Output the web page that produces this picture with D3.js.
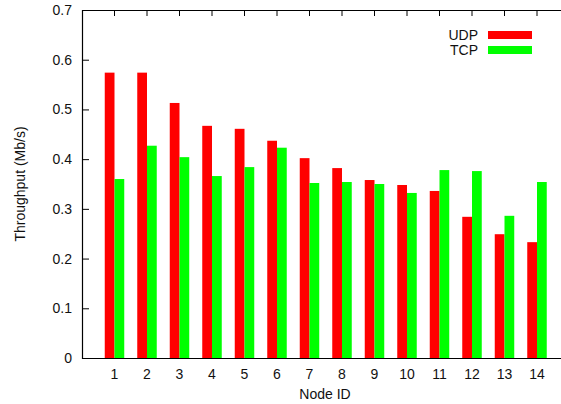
<!DOCTYPE html>
<html lang="en">
<head>
<meta charset="utf-8">
<title>Throughput per node</title>
<script src="https://cdnjs.cloudflare.com/ajax/libs/d3/7.8.5/d3.min.js"></script>
<style>
body { margin: 0; background: #fff; }
svg text { font-family: "Liberation Sans", Arial, sans-serif; font-size: 14px; fill: #111; }
</style>
</head>
<body>
<div id="chart"></div>
<script>

var nodes = [1, 2, 3, 4, 5, 6, 7, 8, 9, 10, 11, 12, 13, 14]
var udp = [0.574, 0.574, 0.513, 0.467, 0.461, 0.437, 0.402, 0.382, 0.358, 0.348, 0.336, 0.284, 0.249, 0.233]
var tcp = [0.360, 0.427, 0.404, 0.366, 0.384, 0.423, 0.352, 0.354, 0.350, 0.332, 0.378, 0.376, 0.286, 0.354]
var yTicks = [0, 0.1, 0.2, 0.3, 0.4, 0.5, 0.6, 0.7]
var seriesNames = ['UDP', 'TCP']
var seriesColors = ['#ff0000', '#00ff00']

var svgWidth = 561, svgHeight = 404
var plotLeft = 82, plotTop = 10, plotBottom = 358
var boxWidth = 0.3

var svg = d3.select('#chart').append('svg')
    .attr('width', svgWidth)
    .attr('height', svgHeight)

// x runs 0..15 but the right end falls outside the picture
var x = d3.scaleLinear().domain([0, 15]).range([plotLeft, plotLeft + 15 * 32.5])
var y = d3.scaleLinear().domain([0, 0.7]).range([plotBottom, plotTop])

// y ticks (inward) + labels
var yAxis = svg.append('g')
yAxis.selectAll('line').data(yTicks).enter().append('line')
    .attr('x1', plotLeft).attr('x2', plotLeft + 7)
    .attr('y1', function(d) { return y(d) + 0.5 }).attr('y2', function(d) { return y(d) + 0.5 })
    .attr('stroke', '#000').attr('stroke-width', 1)
yAxis.selectAll('text').data(yTicks).enter().append('text')
    .attr('x', plotLeft - 10)
    .attr('y', function(d) { return y(d) + 5 })
    .attr('text-anchor', 'end')
    .text(function(d) { return d === 0 ? '0' : d.toFixed(1) })

// top mirrored x ticks
svg.append('g').selectAll('line').data(nodes).enter().append('line')
    .attr('x1', function(d) { return x(d) }).attr('x2', function(d) { return x(d) })
    .attr('y1', plotTop).attr('y2', plotTop + 6)
    .attr('stroke', '#000').attr('stroke-width', 1)

// bars
var series = [udp, tcp]
series.forEach(function(vals, s) {
    svg.append('g').selectAll('rect').data(vals).enter().append('rect')
        .attr('x', function(d, i) { return x(nodes[i] + (s - 1) * boxWidth) })
        .attr('width', x(boxWidth) - x(0))
        .attr('y', function(d) { return y(d) })
        .attr('height', function(d) { return y(0) - y(d) })
        .attr('fill', seriesColors[s])
})

// x labels
svg.append('g').selectAll('text').data(nodes).enter().append('text')
    .attr('x', function(d) { return x(d) })
    .attr('y', plotBottom + 21)
    .attr('text-anchor', 'middle')
    .text(function(d) { return d })

// border: left, top, bottom (no right side inside the picture)
svg.append('path')
    .attr('d', 'M' + svgWidth + ',' + (plotTop + 0.5) + 'H' + (plotLeft + 0.5) + 'V' + (plotBottom + 0.5) + 'H' + svgWidth)
    .attr('fill', 'none').attr('stroke', '#000').attr('stroke-width', 1.2)

// axis titles
svg.append('text')
    .attr('x', 325)
    .attr('y', 399)
    .attr('text-anchor', 'middle')
    .text('Node ID')
svg.append('text')
    .attr('transform', 'translate(25,' + (plotTop + plotBottom) / 2 + ') rotate(-90)')
    .attr('text-anchor', 'middle')
    .text('Throughput (Mb/s)')

// legend
var legend = svg.append('g')
seriesNames.forEach(function(name, s) {
    legend.append('text')
        .attr('x', 478)
        .attr('y', 40 + s * 15)
        .attr('text-anchor', 'end')
        .text(name)
    legend.append('rect')
        .attr('x', 488).attr('y', 31 + s * 15)
        .attr('width', 44).attr('height', 8)
        .attr('fill', seriesColors[s])
})

</script>
</body>
</html>
